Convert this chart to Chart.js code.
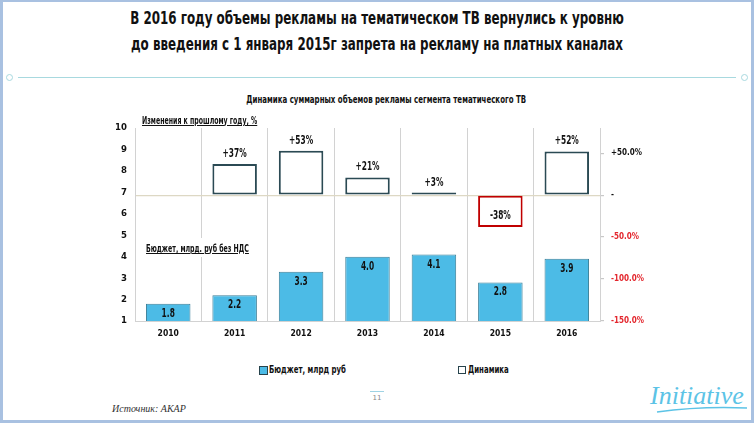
<!DOCTYPE html>
<html>
<head>
<meta charset="utf-8">
<script src="https://cdn.jsdelivr.net/npm/chart.js@4.4.1/dist/chart.umd.min.js"></script>
<style>
  html, body { margin: 0; padding: 0; background: #fff; }
  body { width: 754px; height: 423px; position: relative; overflow: hidden; }
  .frame { position: absolute; left: 0; top: 0; width: 754px; height: 423px; box-sizing: border-box;
           border: 3px solid #a9c1e1; border-top-width: 2px; pointer-events: none; }
  .title { position: absolute; left: 0; width: 754px; text-align: center; font-weight: bold;
           font-size: 18px; color: #111; line-height: 26px; top: 5px; transform: scaleX(0.735); transform-origin: 377px 0; }
  .divider { position: absolute; left: 18px; top: 77px; width: 718px; height: 0; border-top: 1.5px solid #a8d9df; }
  .dot { position: absolute; width: 5px; height: 5px; border: 1.2px solid #a8d9df; border-radius: 50%; top: 74px; }
  .subtitle { position: absolute; left: 8px; width: 754px; text-align: center; top: 93px;
              font-weight: bold; font-size: 11px; color: #111; transform: scaleX(0.71); transform-origin: 381px 0; }
  .note { position: absolute; font-weight: bold; font-size: 10.5px; color: #111; text-decoration: underline;
          white-space: nowrap; transform: scaleX(0.66); transform-origin: 0 0; }
  .notebg { position: absolute; background: #fff; }
  #wrap { position: absolute; left: 90px; top: 100px; width: 590px; height: 250px; }
  .sq { position: absolute; top: 366px; width: 6px; height: 6px; border: 1.5px solid #27434c; }
  .legend { position: absolute; top: 363px; font-weight: bold; font-size: 10.5px; color: #111; white-space: nowrap;
            transform: scaleX(0.74); transform-origin: 0 0; }
  .pageno { position: absolute; left: 370px; top: 391px; width: 14px; text-align: center; font-size: 7px;
            color: #888; border-top: 1px solid #9fd3e4; padding-top: 2px; font-family: "DejaVu Sans", sans-serif; }
  .source { position: absolute; left: 112px; top: 403px; font-family: "Liberation Serif", serif; font-style: italic;
            font-size: 10px; color: #333; }
  .logo { position: absolute; left: 650px; top: 381px; font-family: "Liberation Serif", serif; font-style: italic;
          font-size: 26px; color: #5cc3e6; }
</style>
</head>
<body>
<div class="title">В 2016 году объемы рекламы на тематическом ТВ вернулись к уровню<br>до введения с 1 января 2015г запрета на рекламу на платных каналах</div>
<div class="dot" style="left:6px"></div>
<div class="divider"></div>
<div class="dot" style="left:741px"></div>
<div class="subtitle">Динамика суммарных объемов рекламы сегмента тематического ТВ</div>
<div id="wrap"><canvas id="myChart"></canvas></div>
<div class="note" style="left:142px; top:114px;">Изменения к прошлому году, %</div>
<div class="notebg" style="left:143px; top:238px; width:104px; height:19px;"></div>
<div class="note" style="left:146px; top:242px;">Бюджет, млрд. руб без НДС</div>
<div class="sq" style="left:259px; background:#4cbbe6; border-width:1px; width:7px; height:7px;"></div>
<div class="legend" style="left:269px;">Бюджет, млрд руб</div>
<div class="sq" style="left:458px; background:#fff;"></div>
<div class="legend" style="left:468px;">Динамика</div>
<div class="pageno">11</div>
<div class="source">Источник: АКАР</div>
<div class="logo">Initiative</div>
<svg style="position:absolute; left:655px; top:402px" width="95" height="14">
  <path d="M2 10 Q 45 4 92 6" stroke="#5cc3e6" stroke-width="1.3" fill="none"/>
</svg>
<div class="frame"></div>
<script>
const years = ['2010', '2011', '2012', '2013', '2014', '2015', '2016'];
const budget = [1.8, 2.2, 3.3, 4.0, 4.1, 2.8, 3.9];
const change = [null, 37, 53, 21, 3, -38, 52];
const leftTicks = [1, 2, 3, 4, 5, 6, 7, 8, 9, 10];
const rightTicks = [-150, -100, -50, 0, 50];

// find a narrow font that is really installed
function pickFont(names) {
  const c = document.createElement('canvas').getContext('2d');
  const s = 'Бюджет 2016 abc';
  c.font = 'bold 20px monospace';
  const base = c.measureText(s).width;
  for (const n of names) {
    c.font = 'bold 20px "' + n + '", monospace';
    if (c.measureText(s).width !== base) return n;
  }
  return 'sans-serif';
}
const narrow = pickFont(['Liberation Sans Narrow', 'DejaVu Sans Condensed', 'Roboto Condensed']);
document.querySelectorAll('.title, .subtitle, .note, .legend').forEach(el => {
  el.style.fontFamily = '"' + narrow + '", sans-serif';
});
Chart.defaults.font.family = '"' + narrow + '", sans-serif';
Chart.defaults.font.weight = 'bold';
Chart.defaults.color = '#111';

// squeezed text, the slide uses a very narrow font
function narrowText(c, txt, x, y) {
  c.save();
  c.translate(x, y);
  c.scale(0.72, 1);
  c.fillText(txt, 0, 0);
  c.restore();
}

// value labels on the bars
const barLabels = {
  id: 'barLabels',
  afterDatasetsDraw(chart) {
    const c = chart.ctx;
    c.save();
    c.font = 'bold 11.5px "' + narrow + '", sans-serif';
    c.fillStyle = '#111';
    c.textAlign = 'center';
    c.textBaseline = 'middle';
    chart.getDatasetMeta(0).data.forEach((bar, i) => {
      narrowText(c, budget[i].toFixed(1), bar.x, bar.y + 10);
    });
    chart.getDatasetMeta(1).data.forEach((bar, i) => {
      const v = change[i];
      if (v === null) return;
      if (v >= 0) narrowText(c, '+' + v + '%', bar.x, bar.y - 10);
      else narrowText(c, v + '%', bar.x, bar.y - 11);
    });
    c.restore();
  }
};

const ctx = document.getElementById('myChart').getContext('2d');
const myChart = new Chart(ctx, {
  type: 'bar',
  data: {
    labels: years,
    datasets: [
      {
        label: 'Бюджет, млрд руб',
        data: budget,
        base: 1,
        yAxisID: 'y',
        grouped: false,
        backgroundColor: '#4cbbe6',
        borderColor: '#3b7f98',
        borderWidth: 1,
        barPercentage: 0.67,
        categoryPercentage: 1
      },
      {
        label: 'Динамика',
        data: change,
        yAxisID: 'y2',
        grouped: false,
        backgroundColor: change.map(v => v !== null && v < 5 && v >= 0 ? '#5f8088' : '#fff'),
        borderColor: change.map(v => v < 0 ? '#c00000' : '#2b4a54'),
        borderWidth: 2,
        borderSkipped: false,
        barPercentage: 0.67,
        categoryPercentage: 1
      }
    ]
  },
  options: {
    responsive: true,
    maintainAspectRatio: false,
    animation: false,
    layout: { padding: { top: 28, left: 0, right: 0, bottom: 0 } },
    plugins: {
      legend: { display: false },
      tooltip: { enabled: false }
    },
    scales: {
      x: {
        grid: { color: '#d2d2d2', drawTicks: false, offset: true },
        border: { color: '#d2d2d2' },
        ticks: { padding: 8, font: { size: 8.5 } },
        afterFit: s => { s.height = 29; }
      },
      y: {
        position: 'left',
        min: 1,
        max: 10,
        afterBuildTicks: s => { s.ticks = leftTicks.map(v => ({ value: v })); },
        grid: { display: false, drawTicks: false },
        border: { display: true, color: '#d2d2d2' },
        ticks: { padding: 8, font: { size: 9.5 } },
        afterFit: s => { s.width = 45; }
      },
      y2: {
        position: 'right',
        min: -150,
        max: 80,
        afterBuildTicks: s => { s.ticks = rightTicks.map(v => ({ value: v })); },
        grid: {
          drawOnChartArea: true,
          color: c => (c.tick && c.tick.value === 0) ? '#ddd8c4' : 'rgba(0,0,0,0)',
          tickColor: '#c8c8c8',
          tickLength: 4,
          lineWidth: 1.2
        },
        border: { display: true, color: '#d2d2d2' },
        ticks: {
          padding: 7,
          font: { size: 8 },
          color: c => c.tick.value < 0 ? '#e3262d' : '#111',
          callback: v => v === 0 ? '-' : (v > 0 ? '+' : '') + v.toFixed(1) + '%'
        },
        afterFit: s => { s.width = 80; }
      }
    }
  },
  plugins: [barLabels]
});
</script>
</body>
</html>
